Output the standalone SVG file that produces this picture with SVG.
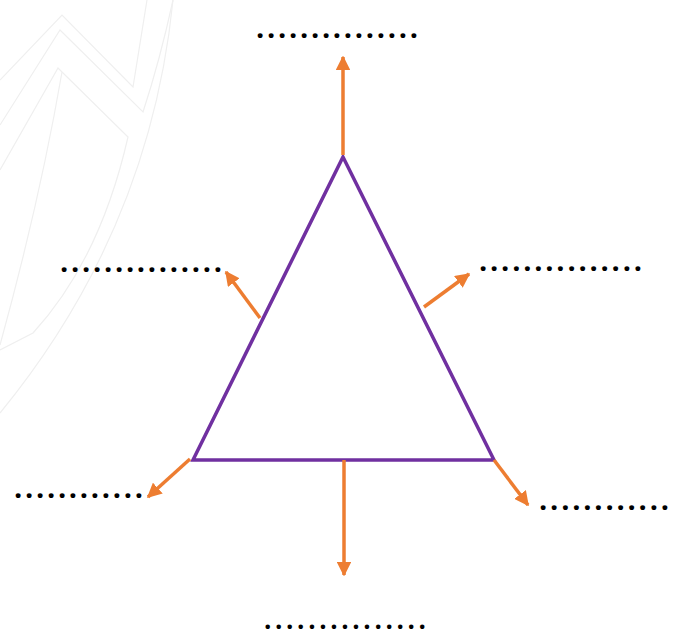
<svg xmlns="http://www.w3.org/2000/svg" width="675" height="636" viewBox="0 0 675 636">
<defs>
<style>
.wm{fill:none;stroke:#efefef;stroke-width:1.2}
.tri{fill:none;stroke:#7030A0;stroke-width:3.5;stroke-linejoin:miter}
.arr{fill:none;stroke:#ED7D31;stroke-width:3.5}
.dots{font-family:"Open Sans","Noto Sans",sans-serif;font-weight:bold;font-size:29px;fill:#000}
</style>
<marker id="ah" viewBox="0 0 10 10" refX="9" refY="5" markerWidth="4.2" markerHeight="4.2" orient="auto" markerUnits="strokeWidth">
<path d="M0,0 L10,5 L0,10 z" fill="#ED7D31"/>
</marker>
</defs>
<rect width="675" height="636" fill="#fff"/>
<g id="watermark">
<path class="wm" d="M0,80 L62,15 L133,87 L147,0"/>
<path class="wm" d="M0,125 L60,30 L143,112 Q160,60 173,0"/>
<path class="wm" d="M0,170 L58,68 L128,137 Q100,260 33,333 L0,350"/>
<path class="wm" d="M62,72 Q40,200 0,345"/>
<path class="wm" d="M173,0 Q150,230 0,413"/>
</g>
<g id="triangle">
<path class="tri" d="M343,157 L494,460 L193,460 Z"/>
</g>
<g id="connectors">
<line class="arr" x1="343" y1="155" x2="343" y2="57" marker-end="url(#ah)"/>
<line class="arr" x1="260" y1="318" x2="226" y2="272" marker-end="url(#ah)"/>
<line class="arr" x1="424" y1="307" x2="469" y2="274" marker-end="url(#ah)"/>
<line class="arr" x1="190" y1="459" x2="148" y2="497" marker-end="url(#ah)"/>
<line class="arr" x1="494" y1="460" x2="528" y2="505" marker-end="url(#ah)"/>
<line class="arr" x1="344" y1="460" x2="344" y2="575" marker-end="url(#ah)"/>
</g>
<g id="label-top"><text class="dots" x="256" y="38" textLength="162" lengthAdjust="spacing">...............</text></g>
<g id="label-left"><text class="dots" x="60" y="272" textLength="162" lengthAdjust="spacing">...............</text></g>
<g id="label-right"><text class="dots" x="479" y="271" textLength="163" lengthAdjust="spacing">...............</text></g>
<g id="label-bottom-left"><text class="dots" x="14" y="498" textLength="129" lengthAdjust="spacing">............</text></g>
<g id="label-bottom-right"><text class="dots" x="539" y="510" textLength="130" lengthAdjust="spacing">............</text></g>
<g id="label-bottom"><text class="dots" x="264" y="628.5" textLength="162" lengthAdjust="spacing" style="font-size:26px">...............</text></g>
</svg>
